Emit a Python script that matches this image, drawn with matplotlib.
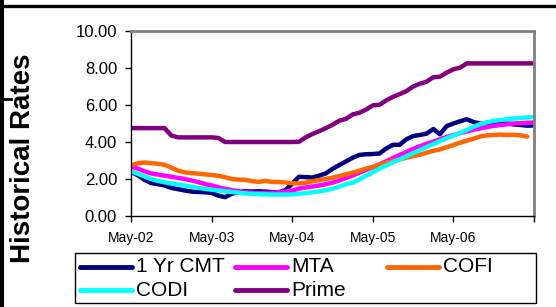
import numpy as np
import matplotlib
matplotlib.use("Agg")
import matplotlib.pyplot as plt
from matplotlib.lines import Line2D
from matplotlib.patches import Rectangle

plt.rcParams['font.family'] = ['Liberation Sans', 'DejaVu Sans']

# monthly values, May-02 .. May-07
cmt = [2.40, 2.20, 1.96, 1.78, 1.72, 1.65, 1.52, 1.45, 1.38, 1.32, 1.30, 1.28, 1.25, 1.10,
       1.02, 1.20, 1.30, 1.34, 1.32, 1.34, 1.32, 1.29, 1.28, 1.40, 1.75, 2.12, 2.10, 2.08,
       2.18, 2.30, 2.55, 2.75, 2.95, 3.15, 3.30, 3.34, 3.35, 3.38, 3.65, 3.85, 3.85, 4.15,
       4.32, 4.38, 4.45, 4.70, 4.42, 4.86, 5.00, 5.12, 5.23, 5.08, 5.00, 5.01, 5.02, 4.98,
       5.00, 4.95, 4.92, 4.88, 4.90]
mta = [2.68, 2.56, 2.42, 2.30, 2.24, 2.18, 2.12, 2.06, 2.00, 1.92, 1.83, 1.73, 1.65, 1.55,
       1.47, 1.40, 1.34, 1.29, 1.25, 1.24, 1.24, 1.25, 1.27, 1.32, 1.38, 1.48, 1.54, 1.59,
       1.65, 1.72, 1.80, 1.92, 2.05, 2.19, 2.34, 2.49, 2.63, 2.79, 2.96, 3.13, 3.30, 3.46,
       3.62, 3.77, 3.90, 4.02, 4.15, 4.27, 4.38, 4.48, 4.57, 4.66, 4.74, 4.81, 4.87, 4.92,
       4.96, 5.00, 5.02, 5.04, 5.05]
cofi = [2.73, 2.85, 2.89, 2.86, 2.82, 2.77, 2.62, 2.45, 2.36, 2.32, 2.29, 2.25, 2.22, 2.17,
        2.10, 2.00, 1.97, 1.95, 1.89, 1.84, 1.90, 1.84, 1.84, 1.81, 1.77, 1.76, 1.80, 1.88,
        1.94, 2.00, 2.07, 2.16, 2.25, 2.34, 2.45, 2.56, 2.66, 2.78, 2.88, 2.98, 3.06, 3.15,
        3.24, 3.31, 3.42, 3.52, 3.60, 3.72, 3.84, 3.96, 4.07, 4.18, 4.30, 4.36, 4.38, 4.40,
        4.38, 4.39, 4.36, 4.29, np.nan]
codi = [2.41, 2.28, 2.14, 2.00, 1.90, 1.82, 1.76, 1.71, 1.65, 1.58, 1.52, 1.47, 1.42, 1.38,
        1.34, 1.30, 1.26, 1.22, 1.20, 1.18, 1.17, 1.16, 1.16, 1.16, 1.17, 1.20, 1.24, 1.28,
        1.33, 1.39, 1.47, 1.59, 1.72, 1.80, 1.98, 2.18, 2.36, 2.56, 2.73, 2.90, 3.06, 3.23,
        3.40, 3.56, 3.73, 3.89, 4.05, 4.20, 4.35, 4.50, 4.65, 4.82, 4.97, 5.07, 5.14, 5.19,
        5.23, 5.27, 5.30, 5.33, 5.35]
prime = [4.75, 4.75, 4.75, 4.75, 4.75, 4.75, 4.35, 4.25, 4.25, 4.25, 4.25, 4.25, 4.25, 4.22,
         4.00, 4.00, 4.00, 4.00, 4.00, 4.00, 4.00, 4.00, 4.00, 4.00, 4.00, 4.01, 4.25, 4.43,
         4.58, 4.75, 4.93, 5.15, 5.25, 5.49, 5.58, 5.75, 5.98, 6.01, 6.25, 6.44, 6.59, 6.75,
         7.00, 7.15, 7.26, 7.50, 7.53, 7.75, 7.93, 8.02, 8.25, 8.25, 8.25, 8.25, 8.25, 8.25,
         8.25, 8.25, 8.25, 8.25, 8.25]

names = ['1 Yr CMT', 'MTA', 'COFI', 'CODI', 'Prime']
colors = ['#000080', '#FF00FF', '#FF6600', '#00FFFF', '#800080']
series = [cmt, mta, cofi, codi, prime]
xlabels = ['May-02', 'May-03', 'May-04', 'May-05', 'May-06', '']

W, H = 556, 307
fig = plt.figure(figsize=(W / 100, H / 100), dpi=100)

def px(x, y):
    return x / W, 1 - y / H

ax = fig.add_axes([131 / W, 1 - 216 / H, (534 - 131) / W, (216 - 31) / H])
months = np.arange(len(cmt))
for s, c in zip(series, colors):
    ax.plot(months, s, color=c, lw=3.2, solid_capstyle='round')

ax.set_xlim(0, 60)
ax.set_ylim(0, 10)
ax.set_xticks(np.arange(0, 61, 12))
ax.set_xticklabels(xlabels, fontsize=10)
ax.set_yticks(np.arange(0, 10.1, 2))
ax.set_yticklabels(['%.2f' % v for v in np.arange(0, 10.1, 2)], fontsize=12)
ax.tick_params(direction='out', length=4, width=1, color='black')
ax.tick_params(axis='x', pad=7)
ax.tick_params(axis='y', pad=6)
for side in ['left', 'bottom']:
    ax.spines[side].set_color('black')
    ax.spines[side].set_linewidth(1)
for side in ['top', 'right']:
    ax.spines[side].set_color('#808080')
    ax.spines[side].set_linewidth(2)

fig.text(23 / W, 1 - 158 / H, 'Historical Rates', rotation=90, fontsize=20,
         fontweight='bold', ha='center', va='center')

# legend box, drawn by hand so the columns line up like the original
x0, y0 = px(75, 303)
x1, y1 = px(536, 253)
fig.add_artist(Rectangle((x0, y0), x1 - x0, y1 - y0, transform=fig.transFigure,
                         facecolor='white', edgecolor='black', lw=1))
col_x = [80, 235, 387, 80, 235]
row_y = [267, 267, 267, 290, 290]
for name, c, lx, ly in zip(names, colors, col_x, row_y):
    a = px(lx, ly)
    b = px(lx + 52, ly)
    fig.add_artist(Line2D([a[0], b[0]], [a[1], b[1]], color=c, lw=3.5,
                          solid_capstyle='round', transform=fig.transFigure))
    fig.text(b[0] + 4 / W, a[1], name, fontsize=15, ha='left', va='center')

# outer frame pieces
fig.add_artist(Line2D([2 / W, 2 / W], [0, 1], color='black', lw=2.9, transform=fig.transFigure))
fig.add_artist(Line2D([2 / W, 1], [1 - 5.5 / H, 1 - 5.5 / H], color='black', lw=2.4,
                      transform=fig.transFigure))
fig.add_artist(Line2D([0, 11 / W], [1 - 99 / H, 1 - 99 / H], color='black', lw=2,
                      transform=fig.transFigure))

fig.savefig('out.png', dpi=100)
